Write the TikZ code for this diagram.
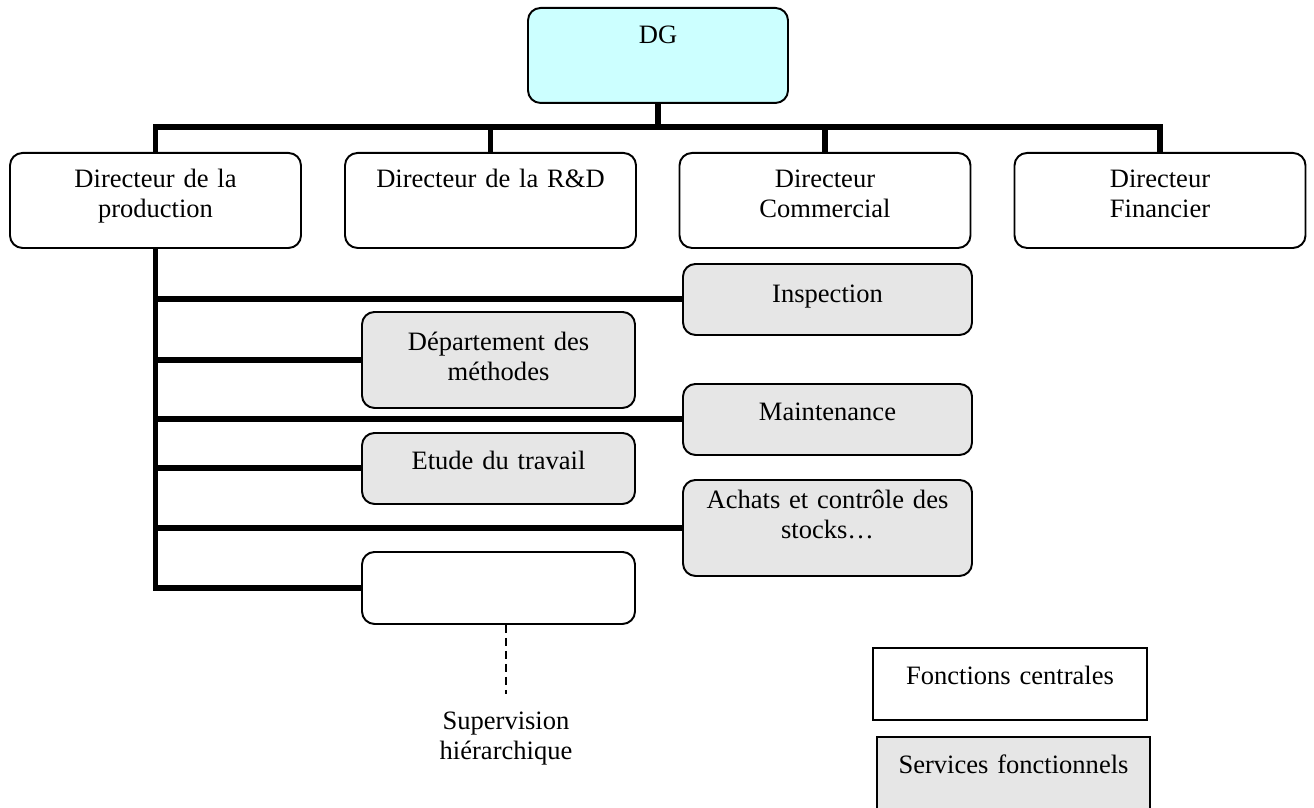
\documentclass[tikz,border=0pt]{standalone}
\usepackage{fontspec}
\setmainfont{Liberation Serif}
\definecolor{dgcyan}{HTML}{CCFFFF}
\definecolor{servgray}{HTML}{E6E6E6}

\begin{document}
\begin{tikzpicture}[x=1cm,y=1cm,font=\fontsize{15.1pt}{17pt}\selectfont,
  dir/.style={draw,line width=1.1pt,rounded corners=0.25cm,fill=white,align=center,anchor=north,inner sep=0pt,text width=5.82cm,text height=0.70cm,text depth=1.20cm},
  serv/.style={dir,fill=servgray},
  legend/.style={draw,line width=1.1pt,fill=white,align=center,anchor=north,inner sep=0pt,text width=5.48cm,text height=0.74cm,text depth=0.70cm},
  link/.style={line width=3.4pt}]
\useasboundingbox (0,0) rectangle (26.28,-16.14);
\node[dir,fill=dgcyan,text width=5.2cm,text height=0.72cm,text depth=1.18cm] (dg) at (13.16,-0.14) {DG};
\node[dir] (prod) at (3.11,-3.04) {Directeur de la\\production};
\node[dir] (rd) at (9.81,-3.04) {Directeur de la R\&D};
\node[dir] (com) at (16.5,-3.04) {Directeur\\Commercial};
\node[dir] (fin) at (23.2,-3.04) {Directeur\\Financier};
\coordinate (bus) at (0,-2.54);
\draw[link] (prod.north) -- (prod.north |- bus) -- (fin.north |- bus) -- (fin.north);
\draw[link] (dg.south) -- (dg.south |- bus);
\foreach \n in {rd,com}{
  \draw[link] (\n.north) -- (\n.north |- bus);}
\node[serv,text width=5.78cm,text height=0.78cm,text depth=0.64cm] (insp) at (16.55,-5.26) {Inspection};
\node[serv,text width=5.78cm,text height=0.74cm,text depth=0.68cm] (maint) at (16.55,-7.66) {Maintenance};
\node[serv,text width=5.78cm,text height=0.58cm,text depth=1.34cm] (achat) at (16.55,-9.58) {Achats et contrôle des\\stocks…};
\node[serv,text width=5.46cm,text height=0.78cm,text depth=1.14cm] (meth) at (9.97,-6.22) {Département des\\méthodes};
\node[serv,text width=5.46cm,text height=0.74cm,text depth=0.68cm] (etude) at (9.97,-8.64) {Etude du travail};
\node[dir,text width=5.46cm,text height=0.72cm,text depth=0.72cm] (vide) at (9.97,-11.02) {};
\draw[link] (prod.south) -- (prod.south |- vide.west) -- (vide.west);
\foreach \n in {insp,meth,maint,etude,achat}{
  \draw[link] (prod.south |- \n.west) -- (\n.west);}
\node[align=center,anchor=north,inner sep=0pt,text width=4cm,text height=0.70cm] (superv) at (10.12,-13.88) {Supervision\\hiérarchique};
\draw[line width=1.1pt,dash pattern=on 0.16cm off 0.1cm] (superv.north |- vide.south) -- (superv.north);
\node[legend] (fonct) at (20.2,-12.94) {Fonctions centrales};
\node[legend,fill=servgray,text width=5.46cm,text depth=0.80cm] (servf) at (20.27,-14.72) {Services fonctionnels};
\end{tikzpicture}
\end{document}
